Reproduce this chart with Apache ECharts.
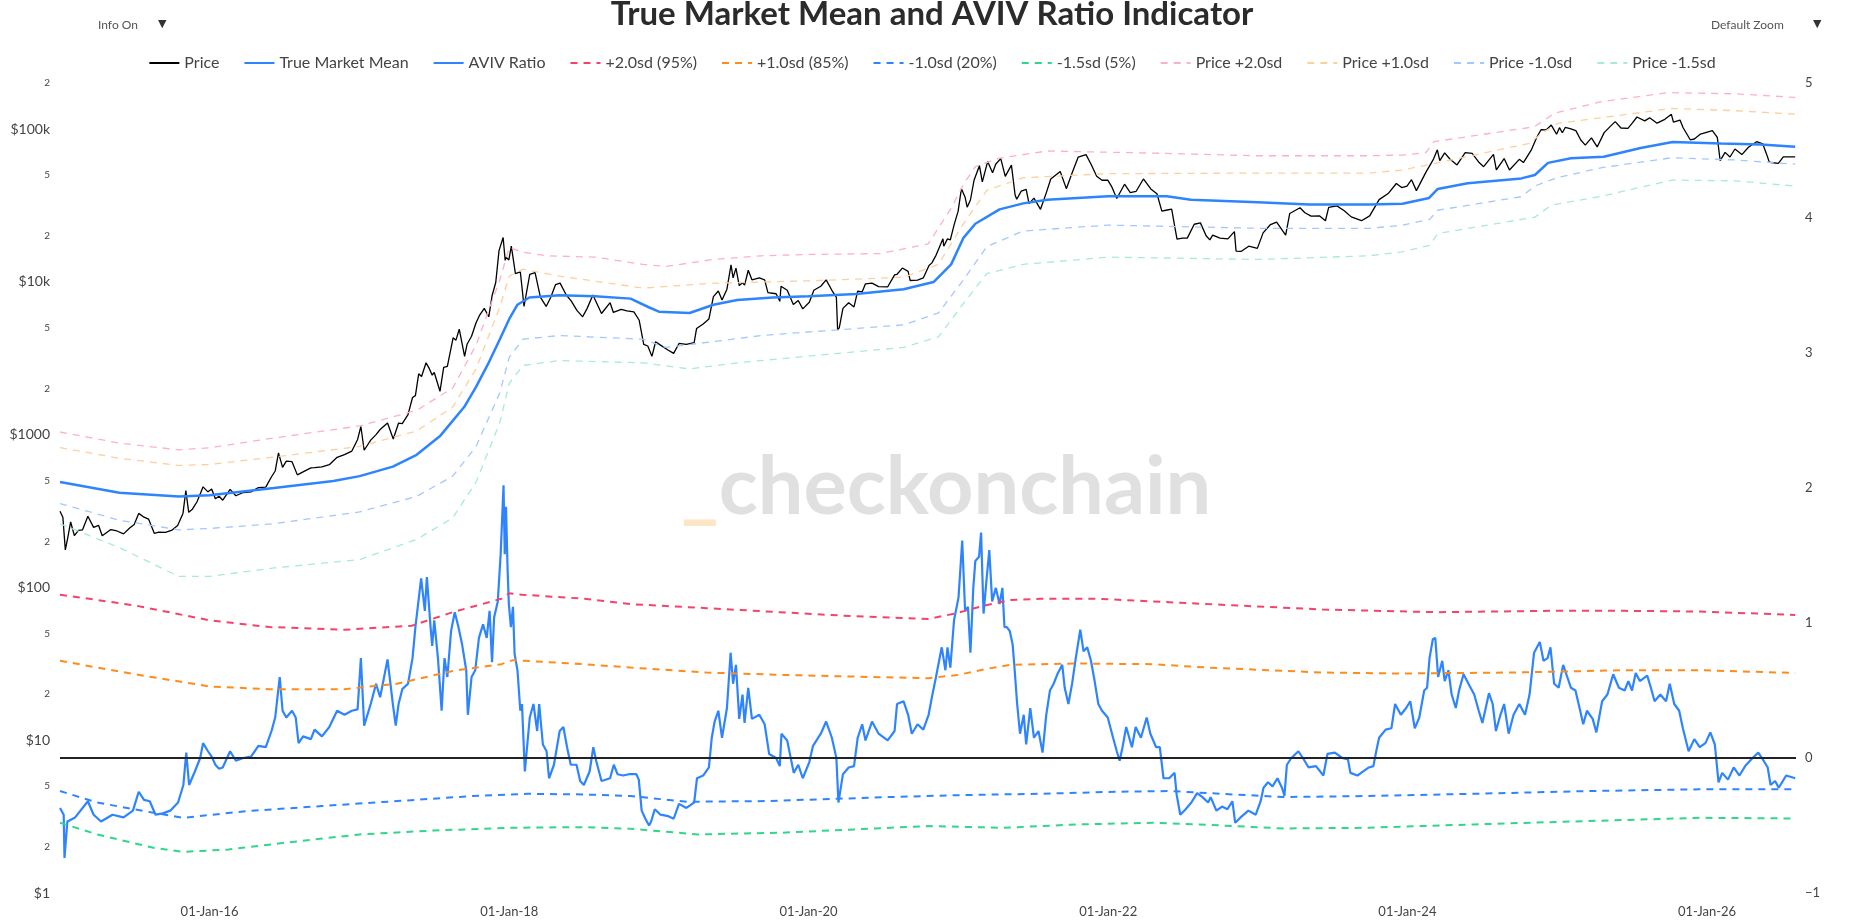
<!DOCTYPE html>
<html>
<head>
    <title>True Market Mean and AVIV Ratio Indicator</title>
    <meta charset="UTF-8">
    <script type="text/javascript" src="https://cdn.jsdelivr.net/npm/echarts@6/dist/echarts.min.js"></script>
    <style type="text/css">
        html, body {
            margin: 0;
            padding: 0;
            background: #ffffff;
        }
        #main {
            width: 1864px;
            height: 922px;
        }
    </style>
</head>
<body>
<div id="main"></div>

<script>
// tick labels
var priceTicks = [1, 2, 5, 10, 20, 50, 100, 200, 500, 1000, 2000, 5000, 10000, 20000, 50000, 100000, 200000];
var xTicks = ['2016-01-01', '2018-01-01', '2020-01-01', '2022-01-01', '2024-01-01', '2026-01-01'];
var xStart = '2015-01-01';
var xEnd = '2026-08-06';

// left axis series (USD)
var btcPrice = [
['2015-01-01',315],['2015-01-08',288],['2015-01-14',176],['2015-01-20',212],['2015-01-27',268],['2015-02-05',218],['2015-02-15',236],['2015-02-25',238],['2015-03-10',292],['2015-03-24',247],['2015-04-05',255],['2015-04-14',218],['2015-05-05',239],['2015-05-20',234],['2015-06-05',224],['2015-06-20',245],['2015-07-01',258],['2015-07-12',305],['2015-07-25',288],['2015-08-05',280],['2015-08-19',226],['2015-08-30',230],['2015-09-15',229],['2015-09-30',236],['2015-10-15',254],['2015-10-28',305],['2015-11-04',430],['2015-11-11',310],['2015-11-20',325],['2015-12-01',362],['2015-12-10',415],['2015-12-16',455],['2015-12-28',422],
['2016-01-06',440],['2016-01-15',380],['2016-01-24',395],['2016-02-02',372],['2016-02-20',438],['2016-03-05',398],['2016-03-23',418],['2016-04-11',422],['2016-04-29',450],['2016-05-17',453],['2016-05-31',530],['2016-06-09',578],['2016-06-17',760],['2016-06-27',610],['2016-07-06',670],['2016-07-20',665],['2016-08-02',545],['2016-08-16',570],['2016-09-04',605],['2016-09-13',608],['2016-10-01',615],['2016-10-19',635],['2016-11-07',710],['2016-11-25',740],['2016-12-13',780],['2016-12-27',930],
['2017-01-04',1130],['2017-01-12',790],['2017-01-28',920],['2017-02-10',1000],['2017-02-20',1080],['2017-03-10',1190],['2017-03-24',935],['2017-04-06',1190],['2017-04-15',1180],['2017-04-29',1350],['2017-05-10',1750],['2017-05-17',1800],['2017-05-25',2500],['2017-06-01',2400],['2017-06-12',2950],['2017-06-20',2700],['2017-06-27',2450],['2017-07-02',2550],['2017-07-16',1920],['2017-07-25',2750],['2017-08-03',2800],['2017-08-17',4300],['2017-08-24',4150],['2017-09-01',4900],['2017-09-14',3250],['2017-09-20',3900],['2017-10-01',4400],['2017-10-12',5400],['2017-10-20',6000],['2017-11-01',6700],['2017-11-12',5900],['2017-11-20',8100],['2017-11-29',9900],['2017-12-07',16000],['2017-12-17',19500],['2017-12-22',13800],['2017-12-24',14500],['2017-12-31',13900],
['2018-01-06',17100],['2018-01-16',11300],['2018-01-28',11600],['2018-02-06',6900],['2018-02-20',11200],['2018-03-05',11500],['2018-03-18',7900],['2018-04-01',6900],['2018-04-12',7900],['2018-04-24',9600],['2018-05-05',9800],['2018-05-20',8200],['2018-06-01',7500],['2018-06-15',6500],['2018-06-29',5900],['2018-07-10',6700],['2018-07-24',8200],['2018-08-05',7000],['2018-08-14',6200],['2018-09-04',7300],['2018-09-12',6300],['2018-10-01',6600],['2018-10-15',6450],['2018-11-01',6350],['2018-11-14',5600],['2018-11-25',3900],['2018-12-05',3800],['2018-12-15',3250],['2018-12-24',4050],
['2019-01-05',3850],['2019-01-23',3580],['2019-02-06',3400],['2019-02-19',3950],['2019-03-09',3900],['2019-03-28',4000],['2019-04-03',4950],['2019-04-19',5300],['2019-05-03',5700],['2019-05-14',8000],['2019-05-26',8700],['2019-06-04',7600],['2019-06-16',8950],['2019-06-26',12900],['2019-07-01',10600],['2019-07-08',12300],['2019-07-16',9450],['2019-07-24',9850],['2019-07-29',9500],['2019-08-07',11900],['2019-08-16',10300],['2019-09-03',10600],['2019-09-16',10300],['2019-09-24',8500],['2019-10-14',8350],['2019-10-23',7450],['2019-10-26',9350],['2019-11-10',8800],['2019-11-25',7100],['2019-12-07',7550],['2019-12-18',6650],
['2020-01-03',7350],['2020-01-14',8800],['2020-01-31',9350],['2020-02-13',10300],['2020-02-27',8800],['2020-03-09',7900],['2020-03-12',4850],['2020-03-16',5000],['2020-03-25',6700],['2020-04-08',7300],['2020-04-21',6850],['2020-04-30',8700],['2020-05-11',8600],['2020-05-19',9700],['2020-06-04',9800],['2020-06-20',9300],['2020-07-12',9250],['2020-07-29',11100],['2020-08-04',11200],['2020-08-17',12300],['2020-08-31',11700],['2020-09-05',10200],['2020-09-23',10250],['2020-10-07',10600],['2020-10-21',12800],['2020-10-28',13300],['2020-11-07',14900],['2020-11-24',19100],['2020-11-26',17100],['2020-12-05',19100],['2020-12-12',18800],['2020-12-21',23500],['2020-12-31',29000],
['2021-01-08',40700],['2021-01-17',35800],['2021-01-22',30800],['2021-01-30',34300],['2021-02-08',46400],['2021-02-21',57500],['2021-02-28',45100],['2021-03-13',61200],['2021-03-25',51700],['2021-04-02',59000],['2021-04-14',64000],['2021-04-25',49000],['2021-05-10',58000],['2021-05-19',37000],['2021-05-23',34700],['2021-06-03',39200],['2021-06-15',40200],['2021-06-22',32500],['2021-07-04',35300],['2021-07-20',29800],['2021-08-03',38200],['2021-08-14',47100],['2021-09-06',52700],['2021-09-21',40700],['2021-10-05',51500],['2021-10-20',65500],['2021-11-08',68000],['2021-11-20',59000],['2021-12-04',49000],['2021-12-17',46200],['2021-12-31',46300],
['2022-01-10',41800],['2022-01-22',35100],['2022-02-10',43500],['2022-02-24',38300],['2022-03-10',39000],['2022-03-28',47100],['2022-04-15',40500],['2022-04-30',37700],['2022-05-12',29000],['2022-05-25',29500],['2022-06-05',29900],['2022-06-13',22500],['2022-06-18',19000],['2022-07-01',19300],['2022-07-13',19300],['2022-07-30',23800],['2022-08-14',24300],['2022-08-28',20000],['2022-09-06',18800],['2022-09-13',20200],['2022-10-01',19300],['2022-10-20',19100],['2022-11-05',21300],['2022-11-09',15900],['2022-11-21',15800],['2022-12-10',17100],['2022-12-31',16550],
['2023-01-14',20900],['2023-02-01',23700],['2023-02-16',24600],['2023-03-10',20200],['2023-03-20',28000],['2023-04-14',30500],['2023-04-26',28300],['2023-05-11',26900],['2023-06-01',27000],['2023-06-15',25100],['2023-06-23',30700],['2023-07-13',31400],['2023-07-31',29200],['2023-08-17',26600],['2023-09-11',25100],['2023-10-01',27000],['2023-10-24',34500],['2023-11-15',37800],['2023-12-05',44000],['2023-12-18',41400],['2023-12-31',42300],
['2024-01-11',46600],['2024-01-23',39500],['2024-02-15',52000],['2024-03-05',63800],['2024-03-14',73100],['2024-03-20',62000],['2024-04-01',69700],['2024-04-13',63900],['2024-05-01',58200],['2024-05-21',70100],['2024-06-07',69300],['2024-06-24',60300],['2024-07-05',56700],['2024-07-29',68300],['2024-08-05',54000],['2024-08-24',64100],['2024-09-06',53900],['2024-09-30',63300],['2024-10-10',60300],['2024-10-29',72700],['2024-11-12',88700],['2024-11-22',98900],['2024-12-05',98800],['2024-12-17',106100],['2024-12-30',92400],
['2025-01-06',102000],['2025-01-13',94500],['2025-01-20',102300],['2025-02-01',100600],['2025-02-15',97500],['2025-02-27',84700],['2025-03-10',78500],['2025-03-25',87500],['2025-04-08',76300],['2025-04-25',94700],['2025-05-10',104000],['2025-05-22',111700],['2025-06-05',101500],['2025-06-22',101000],['2025-07-03',109600],['2025-07-14',119800],['2025-08-02',113000],['2025-08-14',118300],['2025-09-01',109200],['2025-09-20',115700],['2025-10-06',124700],['2025-10-11',111000],['2025-10-27',114500],['2025-11-04',101500],['2025-11-21',85000],['2025-12-01',86000],['2025-12-16',92700],
['2026-01-14',97500],['2026-01-26',88100],['2026-02-02',62100],['2026-02-14',70300],['2026-02-26',65600],['2026-03-10',74000],['2026-03-27',68000],['2026-04-12',75900],['2026-05-02',82600],['2026-05-17',79800],['2026-05-26',68700],['2026-06-02',60600],['2026-06-24',59600],['2026-07-06',65600],['2026-08-04',65600]
];

var trueMarketMean = [
['2015-01-01',489],['2015-05-26',416],['2015-10-18',394],['2016-01-01',401],['2016-06-06',447],['2016-10-29',497],['2017-01-01',535],['2017-03-23',617],['2017-05-20',738],['2017-07-17',984],['2017-09-13',1514],['2017-10-12',2054],['2017-11-10',2890],['2017-12-09',4210],['2018-01-01',5710],['2018-01-21',7080],['2018-02-19',7890],['2018-05-03',8180],['2018-07-29',8040],['2018-10-24',7760],['2018-12-06',6840],['2019-01-01',6370],['2019-03-17',6250],['2019-05-14',7080],['2019-07-11',7610],['2019-10-06',7890],['2020-01-01',8040],['2020-04-26',8330],['2020-08-20',8950],['2020-11-01',9960],['2020-12-14',13000],['2021-01-13',19400],['2021-02-11',24000],['2021-04-11',29800],['2021-06-08',32600],['2021-08-05',34400],['2022-01-01',36300],['2022-05-24',36300],['2022-07-22',34400],['2023-01-01',33200],['2023-05-06',32000],['2023-09-30',32000],['2023-12-20',32400],['2024-02-23',35400],['2024-03-15',40500],['2024-05-27',44100],['2024-10-05',47500],['2024-11-07',50000],['2024-12-09',60000],['2025-02-03',64300],['2025-04-24',65900],['2025-07-23',75100],['2025-10-09',82200],['2026-02-04',80500],['2026-05-12',79300],['2026-08-04',76600]
];

var pricePlus2 = [
['2015-01-01',1040],['2015-05-26',880],['2015-10-18',795],['2016-01-01',820],['2016-06-06',950],['2017-01-01',1140],['2017-05-20',1440],['2017-08-16',2020],['2017-10-12',3850],['2017-12-09',10300],['2018-01-01',16800],['2018-02-04',15600],['2018-04-01',14800],['2018-07-29',14500],['2018-11-23',13000],['2019-01-18',12600],['2019-05-14',14000],['2019-09-08',14800],['2020-01-01',15100],['2020-06-24',15300],['2020-10-19',17700],['2020-12-14',30300],['2021-01-13',43400],['2021-02-11',56800],['2021-04-11',64400],['2021-08-05',71800],['2022-01-01',70500],['2022-05-24',69200],['2023-01-01',66800],['2023-09-30',66800],['2023-12-19',67500],['2024-02-15',70000],['2024-03-06',82600],['2024-11-06',103500],['2024-12-25',126800],['2025-04-18',151000],['2025-09-27',173000],['2026-03-09',170000],['2026-08-04',161000]
];

var pricePlus1 = [
['2015-01-01',822],['2015-05-26',700],['2015-10-18',628],['2016-01-01',637],['2016-06-06',713],['2017-01-01',837],['2017-05-20',1057],['2017-08-16',1514],['2017-10-12',2690],['2017-12-09',6840],['2018-01-01',10900],['2018-02-04',12100],['2018-05-03',10900],['2018-11-23',9100],['2019-05-14',9790],['2020-01-01',10150],['2020-08-20',10700],['2020-11-13',13000],['2021-01-13',24000],['2021-03-11',39700],['2021-06-08',48000],['2022-01-01',51000],['2023-01-01',51500],['2023-09-30',51500],['2023-12-19',53800],['2024-03-06',59400],['2024-10-24',80500],['2024-11-26',94600],['2025-01-02',108900],['2025-07-11',126800],['2025-10-08',136500],['2026-03-09',131800],['2026-08-04',125000]
];

var priceMinus1 = [
['2015-01-01',354],['2015-05-26',275],['2015-10-18',238],['2016-01-01',243],['2016-06-06',261],['2017-01-01',312],['2017-05-20',394],['2017-08-16',535],['2017-10-12',837],['2017-12-09',1880],['2018-01-01',3210],['2018-02-04',4210],['2018-05-03',4450],['2018-11-23',4210],['2019-01-18',3720],['2019-05-14',4060],['2019-09-08',4450],['2020-02-10',4780],['2020-08-20',5220],['2020-11-13',6250],['2021-01-13',10300],['2021-03-11',17000],['2021-06-08',21500],['2022-01-01',23500],['2023-01-01',22400],['2023-09-30',22400],['2023-12-19',23400],['2024-02-24',25600],['2024-03-15',29400],['2024-10-06',36100],['2024-11-06',42300],['2025-01-02',48200],['2025-04-22',56000],['2025-10-08',64900],['2026-03-09',62700],['2026-08-04',58900]
];

var priceMinus15 = [
['2015-01-01',261],['2015-05-26',182],['2015-10-18',118],['2016-01-01',118],['2016-06-06',134],['2017-01-01',152],['2017-05-20',206],['2017-08-16',285],['2017-10-12',489],['2017-12-09',1200],['2018-01-01',2170],['2018-02-04',2840],['2018-05-03',3050],['2018-11-23',2950],['2019-03-17',2690],['2019-07-11',2950],['2020-02-10',3340],['2020-08-20',3720],['2020-11-13',4360],['2021-01-13',7220],['2021-03-11',11300],['2021-06-08',13000],['2022-01-01',14500],['2023-01-01',14000],['2023-09-30',14800],['2023-12-19',15700],['2024-02-24',17300],['2024-03-15',20700],['2024-11-07',26500],['2024-12-17',31700],['2025-04-18',36300],['2025-10-08',46300],['2026-03-09',45800],['2026-08-04',42300]
];

// right axis series (ratio)
var avivRatio = [
['2015-01-01',-0.37],['2015-01-10',-0.42],['2015-01-12',-0.74],['2015-01-19',-0.47],['2015-02-07',-0.44],['2015-03-10',-0.32],['2015-03-24',-0.42],['2015-04-11',-0.47],['2015-05-09',-0.42],['2015-06-05',-0.44],['2015-06-28',-0.39],['2015-07-12',-0.25],['2015-07-25',-0.31],['2015-08-08',-0.32],['2015-08-22',-0.42],['2015-09-09',-0.41],['2015-09-27',-0.39],['2015-10-16',-0.33],['2015-10-29',-0.2],['2015-11-05',0.04],['2015-11-12',-0.2],['2015-11-26',-0.1],['2015-12-09',0.0],['2015-12-16',0.11],['2015-12-28',0.05],
['2016-01-06',0.01],['2016-01-15',-0.05],['2016-01-24',-0.08],['2016-02-02',-0.07],['2016-02-20',0.05],['2016-03-05',-0.02],['2016-03-23',0.0],['2016-04-11',0.01],['2016-04-29',0.09],['2016-05-17',0.08],['2016-05-31',0.2],['2016-06-09',0.3],['2016-06-20',0.6],['2016-06-27',0.35],['2016-07-06',0.3],['2016-07-20',0.35],['2016-07-29',0.3],['2016-08-05',0.11],['2016-08-16',0.16],['2016-09-04',0.14],['2016-09-13',0.21],['2016-10-01',0.16],['2016-10-19',0.23],['2016-11-07',0.35],['2016-11-25',0.32],['2016-12-13',0.35],['2016-12-27',0.36],
['2017-01-04',0.74],['2017-01-12',0.24],['2017-01-28',0.4],['2017-02-10',0.55],['2017-02-20',0.45],['2017-03-10',0.73],['2017-03-23',0.4],['2017-03-30',0.24],['2017-04-06',0.4],['2017-04-15',0.51],['2017-04-29',0.55],['2017-05-10',0.74],['2017-05-17',0.97],['2017-05-31',1.33],['2017-06-09',1.09],['2017-06-14',1.34],['2017-06-23',0.97],['2017-06-27',0.83],['2017-07-02',1.02],['2017-07-11',0.74],['2017-07-20',0.35],['2017-07-27',0.74],['2017-08-03',0.6],['2017-08-12',0.94],['2017-08-21',1.08],['2017-08-30',0.97],['2017-09-08',0.84],['2017-09-18',0.65],['2017-09-22',0.32],['2017-10-01',0.6],['2017-10-10',0.65],['2017-10-19',0.89],['2017-10-29',0.99],['2017-11-07',0.89],['2017-11-14',1.09],['2017-11-20',0.71],['2017-11-25',1.04],['2017-12-04',1.16],['2017-12-11',1.51],['2017-12-18',2.02],['2017-12-21',1.51],['2017-12-24',1.86],['2017-12-28',1.39],['2017-12-31',1.14],
['2018-01-05',0.97],['2018-01-10',1.12],['2018-01-14',0.77],['2018-01-21',0.65],['2018-01-28',0.35],['2018-02-01',0.4],['2018-02-08',-0.1],['2018-02-20',0.3],['2018-03-01',0.4],['2018-03-10',0.2],['2018-03-15',0.4],['2018-03-24',0.1],['2018-04-02',0.05],['2018-04-08',-0.15],['2018-04-20',-0.05],['2018-05-04',0.2],['2018-05-13',0.23],['2018-05-22',0.08],['2018-05-31',-0.05],['2018-06-14',-0.05],['2018-06-23',-0.17],['2018-07-02',-0.2],['2018-07-16',-0.1],['2018-07-25',0.08],['2018-08-01',-0.02],['2018-08-14',-0.17],['2018-09-04',-0.15],['2018-09-13',-0.05],['2018-09-22',-0.12],['2018-10-06',-0.13],['2018-10-20',-0.12],['2018-11-07',-0.12],['2018-11-13',-0.16],['2018-11-20',-0.39],['2018-11-29',-0.45],['2018-12-08',-0.5],['2018-12-13',-0.47],['2018-12-22',-0.38],
['2019-01-05',-0.42],['2019-01-23',-0.43],['2019-02-06',-0.45],['2019-02-19',-0.34],['2019-03-09',-0.37],['2019-03-28',-0.33],['2019-04-04',-0.15],['2019-04-19',-0.13],['2019-05-03',-0.07],['2019-05-10',0.15],['2019-05-17',0.27],['2019-05-26',0.35],['2019-06-04',0.15],['2019-06-16',0.37],['2019-06-25',0.78],['2019-07-01',0.55],['2019-07-08',0.69],['2019-07-16',0.29],['2019-07-24',0.47],['2019-07-29',0.26],['2019-08-07',0.52],['2019-08-16',0.29],['2019-09-03',0.32],['2019-09-16',0.25],['2019-09-27',0.03],['2019-10-14',0.0],['2019-10-23',-0.06],['2019-10-27',0.18],['2019-11-10',0.13],['2019-11-26',-0.11],['2019-12-07',-0.05],['2019-12-18',-0.15],
['2020-01-03',-0.03],['2020-01-12',0.09],['2020-01-31',0.18],['2020-02-13',0.27],['2020-02-27',0.15],['2020-03-09',0.0],['2020-03-14',-0.33],['2020-03-25',-0.12],['2020-04-08',-0.07],['2020-04-21',-0.06],['2020-04-30',0.15],['2020-05-11',0.25],['2020-05-19',0.13],['2020-06-04',0.27],['2020-06-20',0.18],['2020-07-12',0.13],['2020-07-29',0.2],['2020-08-04',0.4],['2020-08-20',0.42],['2020-08-31',0.32],['2020-09-09',0.18],['2020-09-23',0.25],['2020-10-07',0.21],['2020-10-20',0.32],['2020-10-28',0.45],['2020-11-07',0.6],['2020-11-21',0.82],['2020-11-30',0.65],['2020-12-05',0.82],['2020-12-12',0.67],['2020-12-21',1.02],
['2021-01-01',1.19],['2021-01-10',1.61],['2021-01-17',1.09],['2021-01-24',1.12],['2021-01-30',0.78],['2021-02-06',1.26],['2021-02-11',1.46],['2021-02-20',1.49],['2021-02-25',1.67],['2021-03-03',1.07],['2021-03-10',1.31],['2021-03-17',1.54],['2021-03-24',1.16],['2021-04-02',1.26],['2021-04-11',1.14],['2021-04-18',1.26],['2021-04-23',0.97],['2021-04-29',0.97],['2021-05-06',0.94],['2021-05-13',0.84],['2021-05-17',0.69],['2021-05-24',0.4],['2021-05-31',0.18],['2021-06-09',0.32],['2021-06-15',0.1],['2021-06-25',0.37],['2021-07-04',0.15],['2021-07-15',0.2],['2021-07-25',0.04],['2021-08-03',0.32],['2021-08-12',0.5],['2021-08-21',0.55],['2021-08-30',0.62],['2021-09-11',0.69],['2021-09-17',0.52],['2021-09-26',0.4],['2021-10-05',0.55],['2021-10-14',0.74],['2021-10-25',0.95],['2021-11-02',0.79],['2021-11-11',0.82],['2021-11-20',0.72],['2021-11-29',0.57],['2021-12-08',0.4],['2021-12-17',0.35],['2021-12-31',0.3],
['2022-01-13',0.15],['2022-01-22',0.05],['2022-01-29',-0.02],['2022-02-05',0.08],['2022-02-14',0.23],['2022-02-28',0.08],['2022-03-09',0.23],['2022-03-22',0.15],['2022-04-05',0.3],['2022-04-14',0.18],['2022-04-28',0.08],['2022-05-07',0.08],['2022-05-16',-0.15],['2022-05-30',-0.15],['2022-06-12',-0.11],['2022-06-17',-0.27],['2022-06-26',-0.42],['2022-07-09',-0.38],['2022-07-23',-0.33],['2022-08-06',-0.26],['2022-08-19',-0.29],['2022-09-02',-0.33],['2022-09-08',-0.29],['2022-09-22',-0.39],['2022-10-06',-0.36],['2022-10-19',-0.38],['2022-10-31',-0.32],['2022-11-07',-0.48],['2022-11-20',-0.44],['2022-12-09',-0.39],['2022-12-27',-0.42],
['2023-01-08',-0.32],['2023-01-15',-0.22],['2023-01-26',-0.18],['2023-02-06',-0.21],['2023-02-18',-0.15],['2023-03-01',-0.22],['2023-03-07',-0.28],['2023-03-13',-0.05],['2023-03-24',0.0],['2023-04-10',0.05],['2023-04-21',0.0],['2023-05-05',-0.07],['2023-05-23',-0.06],['2023-06-10',-0.13],['2023-06-20',0.03],['2023-07-08',0.04],['2023-07-26',0.0],['2023-08-09',-0.01],['2023-08-15',-0.11],['2023-09-01',-0.13],['2023-09-10',-0.11],['2023-09-29',-0.07],['2023-10-10',-0.06],['2023-10-17',0.05],['2023-10-24',0.15],['2023-11-09',0.21],['2023-11-23',0.22],['2023-12-02',0.4],['2023-12-16',0.32],['2023-12-29',0.37],
['2024-01-08',0.42],['2024-01-19',0.22],['2024-01-30',0.3],['2024-02-11',0.5],['2024-02-18',0.52],['2024-02-24',0.74],['2024-03-03',0.88],['2024-03-09',0.89],['2024-03-16',0.6],['2024-03-26',0.72],['2024-04-01',0.57],['2024-04-10',0.65],['2024-04-18',0.47],['2024-04-28',0.37],['2024-05-06',0.5],['2024-05-17',0.62],['2024-05-29',0.55],['2024-06-12',0.47],['2024-06-23',0.35],['2024-07-02',0.26],['2024-07-18',0.48],['2024-07-27',0.4],['2024-08-04',0.2],['2024-08-15',0.32],['2024-08-24',0.4],['2024-09-04',0.18],['2024-09-16',0.32],['2024-09-30',0.4],['2024-10-14',0.32],['2024-10-25',0.47],['2024-11-05',0.78],['2024-11-19',0.86],['2024-11-28',0.72],['2024-12-08',0.74],['2024-12-15',0.82],['2024-12-24',0.55],
['2025-01-04',0.52],['2025-01-15',0.69],['2025-01-25',0.6],['2025-02-03',0.52],['2025-02-14',0.5],['2025-02-24',0.37],['2025-03-05',0.25],['2025-03-14',0.35],['2025-03-28',0.29],['2025-04-06',0.19],['2025-04-11',0.27],['2025-04-20',0.42],['2025-05-03',0.47],['2025-05-17',0.62],['2025-05-31',0.52],['2025-06-14',0.5],['2025-06-23',0.57],['2025-07-02',0.5],['2025-07-11',0.63],['2025-07-21',0.57],['2025-08-08',0.61],['2025-08-17',0.52],['2025-08-26',0.42],['2025-09-09',0.47],['2025-09-23',0.42],['2025-10-02',0.55],['2025-10-13',0.4],['2025-10-25',0.35],['2025-11-03',0.22],['2025-11-17',0.05],['2025-12-01',0.14],['2025-12-14',0.08],['2025-12-28',0.11],
['2026-01-09',0.19],['2026-01-20',0.1],['2026-01-29',-0.18],['2026-02-07',-0.11],['2026-02-21',-0.16],['2026-03-07',-0.07],['2026-03-21',-0.13],['2026-04-04',-0.06],['2026-04-22',0.0],['2026-05-06',0.04],['2026-05-19',-0.02],['2026-05-29',-0.07],['2026-06-05',-0.2],['2026-06-16',-0.17],['2026-06-25',-0.22],['2026-07-13',-0.13],['2026-08-04',-0.15]
];

var sdPlus2 = [
['2015-01-01',1.21],['2015-07-03',1.13],['2016-01-01',1.02],['2016-05-26',0.97],['2016-11-25',0.95],['2017-05-08',0.98],['2017-08-16',1.08],['2017-12-13',1.18],['2017-12-31',1.22],['2018-02-01',1.21],['2018-07-02',1.18],['2018-10-24',1.14],['2019-04-28',1.11],['2019-10-23',1.08],['2020-04-21',1.05],['2020-10-20',1.03],['2020-12-23',1.07],['2021-03-06',1.13],['2021-05-08',1.17],['2021-07-20',1.18],['2021-12-04',1.18],['2022-04-18',1.16],['2022-08-31',1.14],['2023-06-09',1.1],['2024-03-12',1.08],['2024-12-12',1.09],['2025-06-14',1.09],['2025-12-14',1.085],['2026-08-04',1.06]
];

var sdPlus1 = [
['2015-01-01',0.72],['2015-07-03',0.62],['2016-01-01',0.53],['2016-05-26',0.51],['2016-11-25',0.51],['2017-04-02',0.55],['2017-08-16',0.645],['2017-12-13',0.695],['2018-01-10',0.725],['2018-07-02',0.695],['2018-10-24',0.67],['2019-04-28',0.633],['2019-10-23',0.616],['2020-04-21',0.603],['2020-10-20',0.591],['2021-01-01',0.616],['2021-03-06',0.658],['2021-05-08',0.69],['2021-10-19',0.7],['2022-04-18',0.695],['2022-08-31',0.67],['2023-06-09',0.633],['2023-12-10',0.626],['2024-09-11',0.633],['2025-06-14',0.65],['2025-12-14',0.65],['2026-08-04',0.63]
];

var sdMinus1 = [
['2015-01-01',-0.245],['2015-04-02',-0.33],['2015-08-17',-0.406],['2015-10-29',-0.443],['2016-04-01',-0.393],['2016-10-01',-0.356],['2017-04-02',-0.319],['2017-10-01',-0.282],['2018-02-15',-0.265],['2018-07-02',-0.27],['2018-10-24',-0.282],['2019-03-10',-0.324],['2019-09-20',-0.319],['2020-01-21',-0.307],['2020-07-20',-0.289],['2021-01-19',-0.274],['2021-07-20',-0.265],['2022-01-18',-0.25],['2022-06-03',-0.245],['2022-08-31',-0.26],['2023-03-05',-0.289],['2023-09-20',-0.282],['2024-06-12',-0.265],['2025-03-14',-0.245],['2025-12-14',-0.232],['2026-08-04',-0.232]
];

var sdMinus15 = [
['2015-01-01',-0.48],['2015-04-02',-0.566],['2015-08-17',-0.665],['2015-10-29',-0.695],['2016-02-16',-0.678],['2016-07-02',-0.628],['2017-01-01',-0.566],['2017-07-03',-0.537],['2018-01-01',-0.517],['2018-07-02',-0.512],['2018-10-24',-0.524],['2019-04-06',-0.566],['2019-10-23',-0.554],['2020-04-21',-0.529],['2020-10-20',-0.504],['2021-04-21',-0.517],['2021-10-19',-0.492],['2022-04-18',-0.48],['2022-08-31',-0.495],['2023-03-05',-0.522],['2023-09-20',-0.517],['2024-06-12',-0.492],['2025-03-14',-0.467],['2025-12-14',-0.443],['2026-08-04',-0.448]
];

var FONT = 'Lato';
var majorNames = {1: '$1', 10: '$10', 100: '$100', 1000: '$1000', 10000: '$10k', 100000: '$100k'};

// 'yyyy-MM-dd' -> local timestamp, same reading ECharts uses for the data
function ts(s) {
    var p = s.split('-');
    return new Date(+p[0], +p[1] - 1, +p[2]).getTime();
}

function lineSeries(name, data, axis, color, width, dashed) {
    return {
        name: name,
        type: 'line',
        yAxisIndex: axis,
        data: data,
        symbol: 'none',
        color: color,
        lineStyle: {
            color: color,
            width: width,
            type: dashed ? [7, 6] : 'solid'
        },
        emphasis: {disabled: true}
    };
}

var myChart = echarts.init(document.getElementById('main'));

var avivSeries = lineSeries('AVIV Ratio', avivRatio, 1, '#2e84ff', 2.2, false);
// black zero line of the ratio axis
avivSeries.markLine = {
    silent: true,
    symbol: ['none', 'none'],
    label: {show: false},
    lineStyle: {color: '#222222', width: 2, type: 'solid'},
    data: [{yAxis: 0}]
};

myChart.setOption({
    animation: false,
    backgroundColor: '#ffffff',
    textStyle: {fontFamily: FONT},
    title: {
        text: 'True Market Mean and AVIV Ratio Indicator',
        left: 'center',
        top: -7,
        textStyle: {fontFamily: FONT, fontSize: 33, fontWeight: 'bold', color: '#2b2b2b'}
    },
    legend: {
        top: 50,
        left: 'center',
        itemWidth: 30,
        itemHeight: 14,
        itemGap: 24,
        itemStyle: {opacity: 0},
        textStyle: {fontFamily: FONT, fontSize: 16, color: '#444444'},
        data: ['Price', 'True Market Mean', 'AVIV Ratio', '+2.0sd (95%)', '+1.0sd (85%)', '-1.0sd (20%)',
               '-1.5sd (5%)', 'Price +2.0sd', 'Price +1.0sd', 'Price -1.0sd', 'Price -1.5sd']
    },
    graphic: [
        {
            type: 'text', left: 98, top: 19, z: 10,
            style: {text: 'Info On', fontFamily: FONT, fontSize: 12, fill: '#555555'}
        },
        {
            type: 'text', left: 158, top: 19, z: 10,
            style: {text: '▼', fontFamily: 'DejaVu Sans', fontSize: 11, fill: '#333333'}
        },
        {
            type: 'text', left: 1711, top: 19, z: 10,
            style: {text: 'Default Zoom', fontFamily: FONT, fontSize: 12, fill: '#555555'}
        },
        {
            type: 'text', left: 1813, top: 19, z: 10,
            style: {text: '▼', fontFamily: 'DejaVu Sans', fontSize: 11, fill: '#333333'}
        },
        {
            // watermark
            type: 'text', z: -10, silent: true,
            x: 681, y: 488,
            style: {
                text: '{u|_}{t|checkonchain}',
                verticalAlign: 'middle',
                align: 'left',
                rich: {
                    u: {fontFamily: FONT, fontWeight: 'bold', fontSize: 81, fill: '#fde6c6', lineHeight: 81},
                    t: {fontFamily: FONT, fontWeight: 'bold', fontSize: 81, fill: '#e0e0e0', lineHeight: 81}
                }
            }
        }
    ],
    grid: {left: 60, right: 68, top: 83, bottom: 29, outerBoundsMode: 'none'},
    xAxis: [
        {
            // time scale used by the series
            type: 'time',
            min: xStart,
            max: xEnd,
            show: false
        },
        {
            // label layer: one label every two years
            type: 'value',
            position: 'bottom',
            min: ts(xStart),
            max: ts(xEnd),
            axisLine: {show: false},
            axisTick: {show: false},
            splitLine: {show: false},
            axisLabel: {
                customValues: xTicks.map(ts),
                margin: 12,
                fontFamily: FONT,
                fontSize: 13,
                color: '#444444',
                formatter: function (v) {
                    var d = new Date(v);
                    return '01-Jan-' + String(d.getFullYear()).slice(2);
                }
            }
        }
    ],
    yAxis: [
        {
            // price scale used by the series
            type: 'log',
            logBase: 10,
            min: 1,
            max: 200000,
            show: false
        },
        {
            type: 'value',
            position: 'right',
            min: -1,
            max: 5,
            interval: 1,
            name: 'AVIV Ratio',
            nameLocation: 'middle',
            nameRotate: -90,
            nameGap: 83,
            nameTextStyle: {fontFamily: FONT, fontSize: 13, color: '#444444'},
            axisLine: {show: false},
            axisTick: {show: false},
            splitLine: {show: false},
            axisLabel: {
                margin: 9,
                fontFamily: FONT,
                fontSize: 13,
                color: '#444444',
                formatter: function (v) {
                    return v < 0 ? '\u2212' + Math.abs(v) : String(v);
                }
            }
        },
        {
            // label layer for the log price axis (1, 2, 5 per decade)
            type: 'value',
            position: 'left',
            min: 0,
            max: Math.log10(200000),
            axisLine: {show: false},
            axisTick: {show: false},
            splitLine: {show: false},
            axisLabel: {
                customValues: priceTicks.map(function (p) { return Math.log10(p); }),
                hideOverlap: false,
                margin: 10,
                formatter: function (v) {
                    var p = Math.round(Math.pow(10, v));
                    if (majorNames[p]) {
                        return '{big|' + majorNames[p] + '}';
                    }
                    return '{small|' + String(p).charAt(0) + '}';
                },
                rich: {
                    big: {fontFamily: FONT, fontSize: 14, color: '#444444'},
                    small: {fontFamily: FONT, fontSize: 10, color: '#444444'}
                }
            }
        }
    ],
    series: [
        lineSeries('Price', btcPrice, 0, '#000000', 1.3, false),
        lineSeries('True Market Mean', trueMarketMean, 0, '#2e84ff', 2.5, false),
        avivSeries,
        lineSeries('+2.0sd (95%)', sdPlus2, 1, '#f5426c', 2, true),
        lineSeries('+1.0sd (85%)', sdPlus1, 1, '#ff8c1a', 2, true),
        lineSeries('-1.0sd (20%)', sdMinus1, 1, '#2e84ff', 2, true),
        lineSeries('-1.5sd (5%)', sdMinus15, 1, '#2fd68c', 2, true),
        lineSeries('Price +2.0sd', pricePlus2, 0, '#ffb0c4', 1.3, true),
        lineSeries('Price +1.0sd', pricePlus1, 0, '#ffcf9c', 1.3, true),
        lineSeries('Price -1.0sd', priceMinus1, 0, '#a3c8ff', 1.3, true),
        lineSeries('Price -1.5sd', priceMinus15, 0, '#a6ecd4', 1.3, true)
    ]
});
</script>
</body>
</html>
